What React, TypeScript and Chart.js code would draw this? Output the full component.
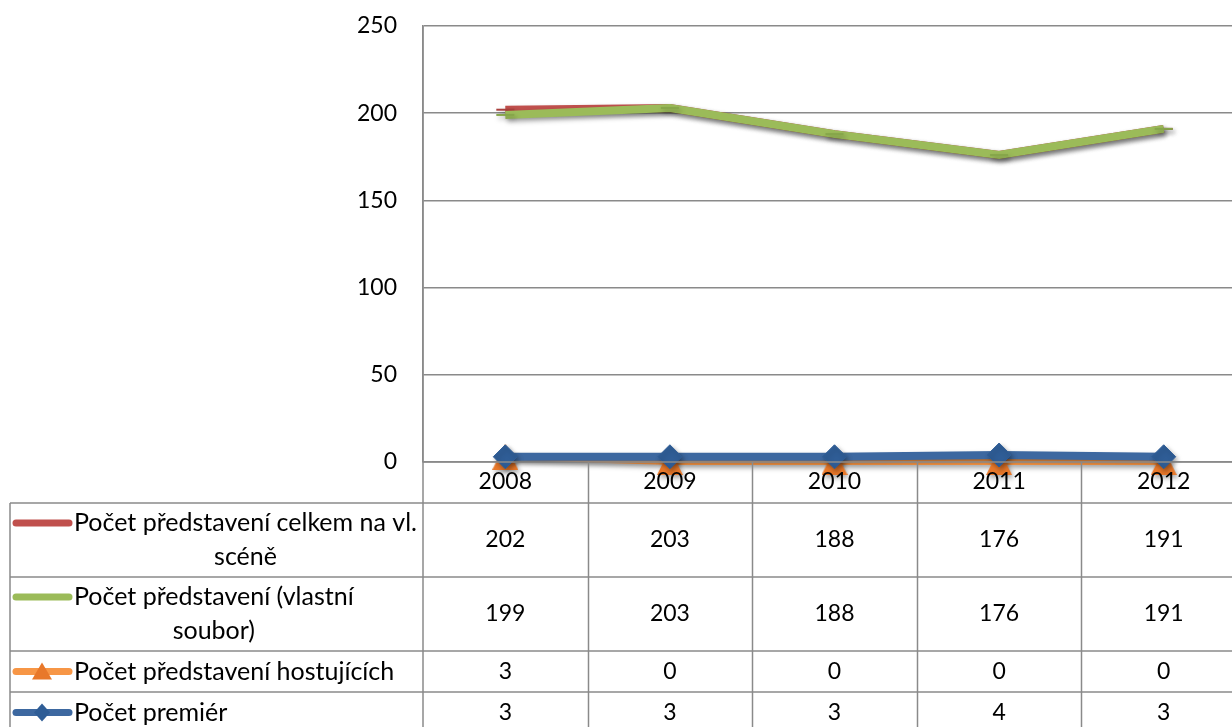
import React, { useEffect, useRef } from "react";
import { Chart, registerables } from "chart.js";

Chart.register(...registerables);

const years = ["2008", "2009", "2010", "2011", "2012"];
const totalOwnStage = [202, 203, 188, 176, 191];
const ownEnsemble = [199, 203, 188, 176, 191];
const guestShows = [3, 0, 0, 0, 0];
const premieres = [3, 3, 3, 4, 3];
const seriesLabelLines = [
  ["Počet představení celkem na vl.", "scéně"],
  ["Počet představení (vlastní", "soubor)"],
  ["Počet představení hostujících"],
  ["Počet premiér"],
];
const yMin = 0;
const yMax = 250;
const yStep = 50;

const GRID = "#8a8a8a";
const FONT = "Lato";

function makeTriangle(size: number, color: string) {
  const c = document.createElement("canvas");
  c.width = size;
  c.height = size;
  const g = c.getContext("2d")!;
  g.fillStyle = color;
  g.beginPath();
  g.moveTo(size / 2, 0);
  g.lineTo(size, size);
  g.lineTo(0, size);
  g.closePath();
  g.fill();
  return c;
}

const shadowPlugin = {
  id: "lineShadow",
  beforeDatasetsDraw(chart: any) {
    const ctx = chart.ctx;
    ctx.save();
    ctx.shadowColor = "rgba(0,0,0,0.35)";
    ctx.shadowBlur = 5;
    ctx.shadowOffsetX = 2;
    ctx.shadowOffsetY = 3;
  },
  afterDatasetsDraw(chart: any) {
    chart.ctx.restore();
  },
};

const tablePlugin = {
  id: "dataTable",
  afterDraw(chart: any) {
    const { ctx, chartArea: ca } = chart;
    const xs = chart.scales.x;
    const n = years.length;
    const colW = ca.width / n;
    const headerH = 41;
    const rowHs = [74, 74, 41, 41];
    const tableLeft = 10;
    const top0 = ca.bottom;
    const rowTops: number[] = [];
    let yy = top0 + headerH;
    for (const h of rowHs) {
      rowTops.push(yy);
      yy += h;
    }
    const bottom = yy;

    ctx.save();
    ctx.strokeStyle = GRID;
    ctx.lineWidth = 1.5;
    ctx.beginPath();
    ctx.moveTo(ca.left, ca.top);
    ctx.lineTo(ca.left, bottom);
    for (let i = 1; i <= n; i++) {
      const x = Math.round(ca.left + i * colW) + 0.5;
      ctx.moveTo(x, top0);
      ctx.lineTo(x, bottom);
    }
    ctx.moveTo(tableLeft, rowTops[0]);
    ctx.lineTo(tableLeft, bottom);
    ctx.moveTo(ca.left, top0);
    ctx.lineTo(ca.right, top0);
    for (const t of rowTops) {
      ctx.moveTo(tableLeft, t);
      ctx.lineTo(ca.right, t);
    }
    ctx.moveTo(tableLeft, bottom);
    ctx.lineTo(ca.right, bottom);
    ctx.stroke();

    ctx.fillStyle = "#000";
    ctx.textAlign = "center";
    ctx.textBaseline = "middle";
    ctx.font = `23px ${FONT}`;
    years.forEach((yr, i) => {
      ctx.fillText(yr, xs.getPixelForValue(i), top0 + 20);
    });

    const datasets = chart.data.datasets;
    [0, 1, 2, 3].forEach((di, r) => {
      const ds = datasets[di];
      const rt = rowTops[r];
      const rc = rt + rowHs[r] / 2;
      const lines = seriesLabelLines[r];
      const lineGap = 34;
      const firstY = rc - ((lines.length - 1) * lineGap) / 2;
      ctx.save();
      ctx.strokeStyle = ds.borderColor;
      ctx.lineWidth = 7;
      ctx.lineCap = "round";
      ctx.beginPath();
      ctx.moveTo(16, firstY);
      ctx.lineTo(69, firstY);
      ctx.stroke();
      const cx = 42;
      if (di === 2) {
        ctx.fillStyle = ds.pointBackgroundColor;
        ctx.beginPath();
        ctx.moveTo(cx, firstY - 9);
        ctx.lineTo(cx + 10, firstY + 8);
        ctx.lineTo(cx - 10, firstY + 8);
        ctx.closePath();
        ctx.fill();
      } else if (di === 3) {
        ctx.fillStyle = ds.pointBackgroundColor;
        ctx.beginPath();
        ctx.moveTo(cx - 8, firstY);
        ctx.lineTo(cx, firstY - 9);
        ctx.lineTo(cx + 8, firstY);
        ctx.lineTo(cx, firstY + 9);
        ctx.closePath();
        ctx.fill();
      }
      ctx.restore();

      ctx.font = `25px ${FONT}`;
      ctx.fillStyle = "#000";
      ctx.textAlign = "center";
      ctx.textBaseline = "middle";
      const maxW = Math.max(...lines.map((l) => ctx.measureText(l).width));
      const cxText = 74 + maxW / 2;
      lines.forEach((l, li) => ctx.fillText(l, cxText, firstY + li * lineGap));

      ctx.font = `23px ${FONT}`;
      ds.data.forEach((v: number, i: number) => {
        ctx.fillText(String(v), xs.getPixelForValue(i), rc);
      });
    });
    ctx.restore();
  },
};

export default function App() {
  const ref = useRef<HTMLCanvasElement | null>(null);
  useEffect(() => {
    document.body.style.margin = "0";
    const canvas = ref.current!;
    const tri = makeTriangle(26, "#E8782A");
    const chart = new Chart(canvas, {
      type: "line",
      data: {
        labels: years,
        datasets: [
          {
            label: seriesLabelLines[0].join(" "),
            data: totalOwnStage,
            borderColor: "#C0504D",
            backgroundColor: "#C0504D",
            borderWidth: 8,
            pointStyle: "line",
            pointRadius: 9,
            pointBorderWidth: 2,
            pointBorderColor: "#a9403d",
            clip: false,
            order: 4,
          } as any,
          {
            label: seriesLabelLines[1].join(" "),
            data: ownEnsemble,
            borderColor: "#9BBB59",
            backgroundColor: "#9BBB59",
            borderWidth: 8,
            pointStyle: "line",
            pointRadius: 9,
            pointBorderWidth: 2,
            pointBorderColor: "#86a64a",
            clip: false,
            order: 3,
          },
          {
            label: seriesLabelLines[2].join(" "),
            data: guestShows,
            borderColor: "#F79646",
            backgroundColor: "#E8782A",
            pointBackgroundColor: "#E8782A",
            pointBorderColor: "#E8782A",
            borderWidth: 6,
            pointStyle: tri,
            pointRadius: 13,
            pointBorderWidth: 0,
            clip: false,
            order: 2,
          },
          {
            label: seriesLabelLines[3].join(" "),
            data: premieres,
            borderColor: "#3D68A0",
            backgroundColor: "#2F5D96",
            pointBackgroundColor: "#2F5D96",
            pointBorderColor: "#2F5D96",
            borderWidth: 8,
            pointStyle: "rectRot",
            pointRadius: 12,
            pointBorderWidth: 1,
            clip: false,
            order: 1,
          },
        ],
      },
      options: {
        responsive: false,
        animation: false,
        devicePixelRatio: 1,
        layout: { padding: { left: 0, top: 26, right: 14, bottom: 265 } },
        plugins: { legend: { display: false }, tooltip: { enabled: false } },
        elements: { line: { tension: 0, capBezierPoints: false } },
        scales: {
          x: { type: "category", display: false, offset: true },
          y: {
            min: yMin,
            max: yMax,
            ticks: {
              stepSize: yStep,
              color: "#000",
              font: { family: FONT, size: 23 },
              padding: 0,
            },
            grid: {
              color: GRID,
              lineWidth: 1.5,
              drawTicks: true,
              tickLength: 26,
              tickColor: "rgba(0,0,0,0)",
            },
            border: { display: true, color: GRID, width: 1.5 },
            afterFit: (s: any) => {
              s.width = 423;
            },
          },
        },
      },
      plugins: [shadowPlugin, tablePlugin],
    });
    return () => chart.destroy();
  }, []);
  return (
    <div style={{ width: 1232, height: 727, overflow: "hidden", background: "#fff" }}>
      <canvas ref={ref} width={1260} height={727} style={{ display: "block" }} />
    </div>
  );
}
